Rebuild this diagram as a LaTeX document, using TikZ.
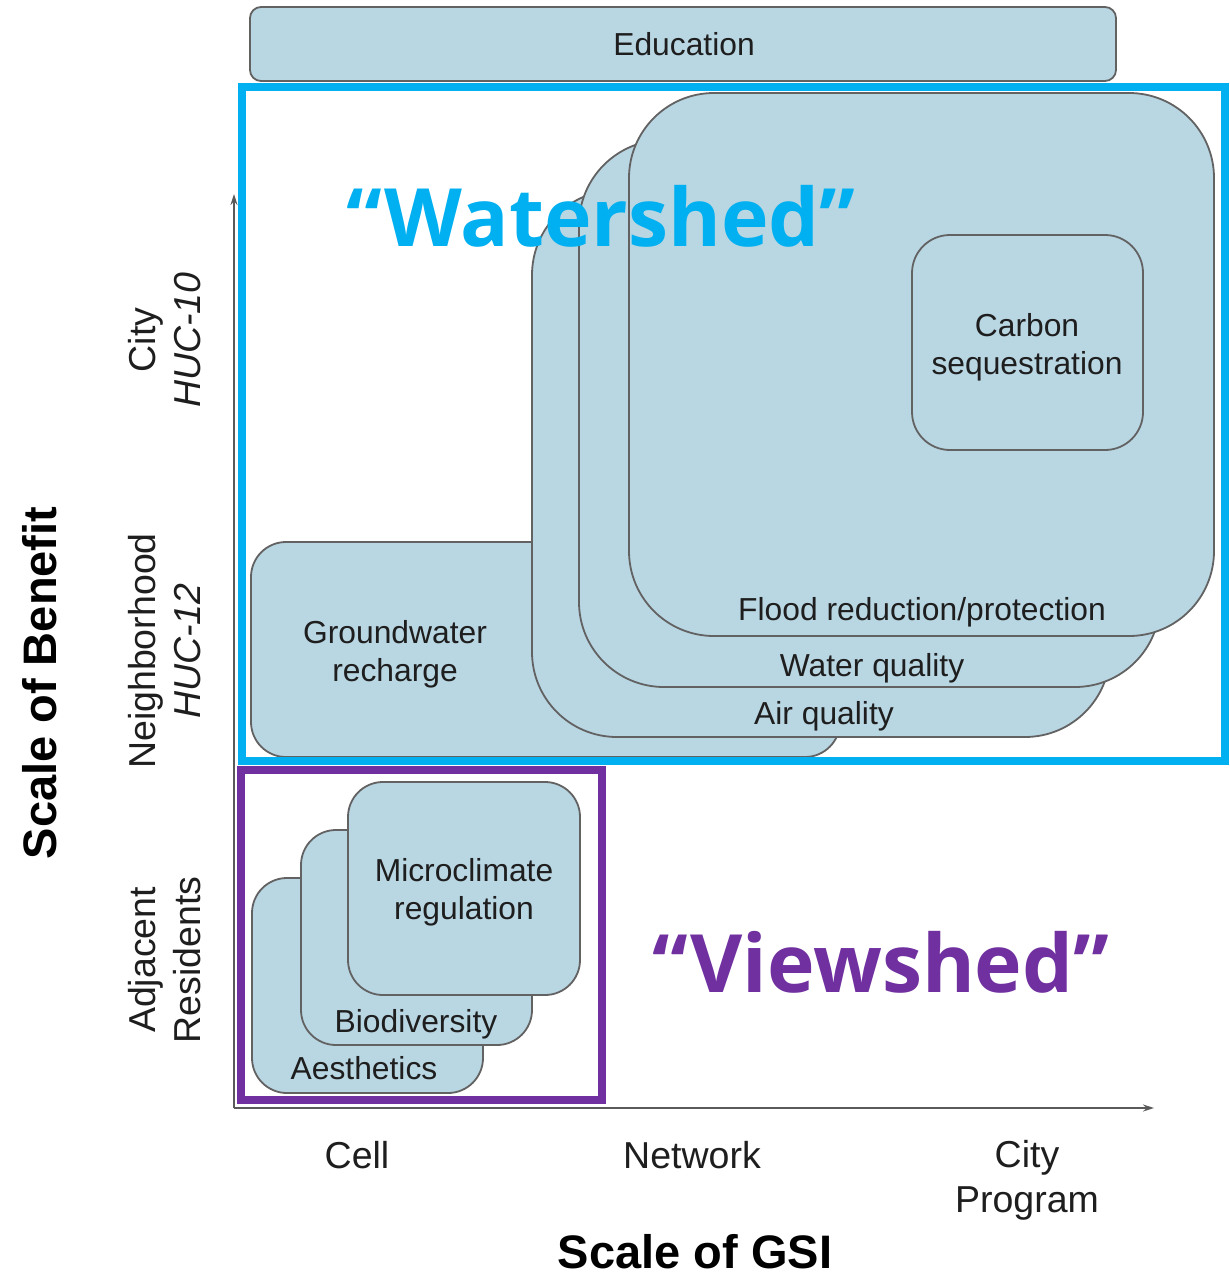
\documentclass[tikz,border=0pt]{standalone}
\usepackage{fontspec}
\setmainfont{Liberation Sans}
\newfontfamily\shedfont[Ligatures=TeX]{Open Sans}
\usetikzlibrary{arrows.meta}
\definecolor{boxfill}{HTML}{B9D6E3}
\definecolor{boxline}{HTML}{626262}
\definecolor{wscyan}{HTML}{00B0F0}
\definecolor{vspurple}{HTML}{7030A0}
\definecolor{axisgray}{HTML}{5A5A5A}
\definecolor{txt}{HTML}{1E1E1E}
\begin{document}
\begin{tikzpicture}[x=1pt,y=-1pt,
  box/.style={draw=boxline, line width=1.8pt, fill=boxfill, inner sep=0pt, outer sep=0pt, rectangle},
  bigbox/.style={box, rounded corners=85pt},
  smallbox/.style={box, rounded corners=35pt},
  boxtext/.style={text=txt, font=\fontsize{31.8}{38}\selectfont, align=center, inner sep=0pt},
  ticktext/.style={text=txt, font=\fontsize{37.5}{45}\selectfont, align=center, inner sep=0pt},
  axistitle/.style={text=black, font=\fontsize{47}{56}\selectfont\bfseries, inner sep=0pt},
  shedtext/.style={font=\shedfont\bfseries\fontsize{80.5}{96}\selectfont, inner sep=0pt},
  axisline/.style={draw=axisgray, line width=1.6pt, -{Stealth[length=11pt,width=7pt]}},
  frame/.style={line width=7.5pt}]
\useasboundingbox (0,0) rectangle (1229,1276);
\fill[white] (0,0) rectangle (1229,1276);

% axes
\coordinate (origin) at (234,1108);
\coordinate (ytip) at (234,194);
\coordinate (xtip) at (1154,1108);
\draw[axisline] (origin) -- (ytip);
\draw[axisline] (origin) -- (xtip);

% Education
\node[box, rounded corners=11pt, minimum width=866pt, minimum height=74pt] (edu) at (683,44) {};
\node[boxtext, anchor=base] (edut) at (684,56) {Education};

% watershed boxes
\node[box, rounded corners=35pt, minimum width=589pt, minimum height=215pt] (gw) at (545.5,649.5) {};
\node[bigbox, minimum width=578pt, minimum height=547pt] (air) at (821,463.5) {};
\node[bigbox, minimum width=581pt, minimum height=547pt] (water) at (869.5,413.5) {};
\node[bigbox, minimum width=585pt, minimum height=543pt] (flood) at (921.5,364.5) {};
\node[box, rounded corners=38pt, minimum width=231pt, minimum height=215pt] (carbon) at (1027.5,342.5) {};

\node[boxtext] (gwt) at (395,654) {Groundwater\\recharge};
\node[boxtext, anchor=base] (airt) at (824,724) {Air quality};
\node[boxtext, anchor=base] (watert) at (872,676) {Water quality};
\node[boxtext, anchor=base] (floodt) at (922,620) {Flood reduction/protection};
\node[boxtext] (carbont) at (1027,347) {Carbon\\sequestration};

% viewshed boxes
\node[smallbox, minimum width=231pt, minimum height=215pt] (aes) at (367.5,985.5) {};
\node[smallbox, minimum width=231pt, minimum height=215pt] (bio) at (416.5,937.5) {};
\node[smallbox, minimum width=232pt, minimum height=213pt] (micro) at (464,888.5) {};
\node[boxtext, anchor=base] (aest) at (364,1079) {Aesthetics};
\node[boxtext, anchor=base] (biot) at (416,1032) {Biodiversity};
\node[boxtext] (microt) at (464,892) {Microclimate\\regulation};

% frames
\node[draw=wscyan, frame, inner sep=0pt, minimum width=983pt, minimum height=674pt] (wsframe) at (733.5,424) {};
\node[draw=vspurple, frame, inner sep=0pt, minimum width=361pt, minimum height=330pt] (vsframe) at (421.5,935) {};

\node[shedtext, text=wscyan, anchor=base] (wstext) at (601,246) {“Watershed”};
\node[shedtext, text=vspurple, anchor=base] (vstext) at (881,992) {“Viewshed”};

% axis labels
\node[ticktext, anchor=base] (cell) at (357,1168) {Cell};
\node[ticktext, anchor=base] (net) at (692,1168) {Network};
\node[ticktext] (cityp) at (1027,1180) {City\\Program};
\node[axistitle, anchor=base] (gsi) at (695,1268) {Scale of GSI};

\node[ticktext, rotate=90] (cityl) at (165,340) {City\\\textit{HUC-10}};
\node[ticktext, rotate=90] (neigh) at (165,651) {Neighborhood\\\textit{HUC-12}};
\node[ticktext, rotate=90] (adj) at (165,960) {Adjacent\\Residents};
\node[axistitle, rotate=90] (benefit) at (40,683) {Scale of Benefit};
\end{tikzpicture}
\end{document}
